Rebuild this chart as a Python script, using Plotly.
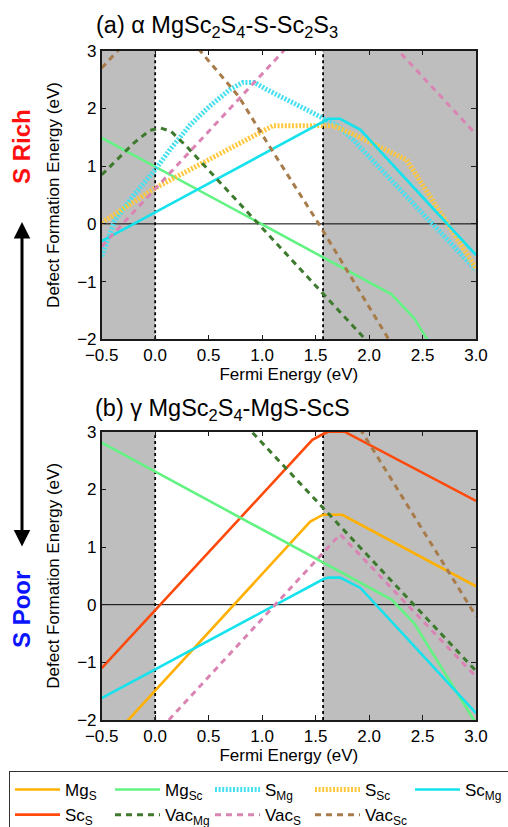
import plotly.graph_objects as go

# ---- data: defect formation energies vs Fermi level (eV) ----
band_gap = 1.57
x_range = [-0.5, 3.0]
y_range = [-2, 3]
x_ticks = [-0.5, 0.0, 0.5, 1.0, 1.5, 2.0, 2.5, 3.0]
x_tick_text = ["\u22120.5", "0.0", "0.5", "1.0", "1.5", "2.0", "2.5", "3.0"]
y_ticks = [-2, -1, 0, 1, 2, 3]

# (a) S-rich: MgSc2S4 - S - Sc2S3
rich_mgsc_x = [-0.5, 2.21, 2.42, 2.56]
rich_mgsc_y = [1.49, -1.22, -1.63, -2.05]
rich_smg_x = [-0.5, -0.38, -0.2, 0.0, 0.14, 0.33, 0.51, 0.70, 0.82, 0.93, 1.04, 1.57, 1.70, 1.85, 3.0]
rich_smg_y = [-0.56, 0.05, 0.5, 0.94, 1.29, 1.72, 2.04, 2.33, 2.45, 2.45, 2.33, 1.85, 1.71, 1.46, -0.8]
rich_ssc_x = [-0.5, 0.0, 1.1, 1.67, 1.89, 2.35, 3.0]
rich_ssc_y = [0.02, 0.62, 1.7, 1.7, 1.52, 1.11, -0.77]
rich_scmg_x = [-0.5, 1.57, 1.62, 1.73, 1.92, 3.0]
rich_scmg_y = [-0.3, 1.77, 1.82, 1.82, 1.63, -0.54]
rich_vacmg_x = [-0.5, -0.2, -0.05, 0.05, 0.15, 0.3, 2.0]
rich_vacmg_y = [0.85, 1.4, 1.62, 1.66, 1.6, 1.33, -2.07]
rich_vacs_x = [-0.5, 1.74, 3.0]
rich_vacs_y = [-0.39, 4.07, 1.55]
rich_vacsc_x = [-0.5, 0.1, 0.42, 0.78, 1.07, 1.37, 1.53, 2.2]
rich_vacsc_y = [2.7, 3.9, 3.0, 2.21, 1.34, 0.48, 0.0, -2.05]

# (b) S-poor: MgSc2S4 - MgS - ScS
poor_mgs_x = [-0.5, 1.45, 1.57, 1.75, 3.0]
poor_mgs_y = [-2.5, 1.44, 1.56, 1.56, 0.32]
poor_scs_x = [-0.5, 1.47, 1.57, 1.62, 1.77, 3.0]
poor_scs_y = [-1.1, 2.86, 2.96, 3.0, 3.0, 1.8]
poor_mgsc_x = [-0.5, 2.21, 2.42, 3.0]
poor_mgsc_y = [2.81, 0.09, -0.32, -2.06]
poor_scmg_x = [-0.5, 1.57, 1.62, 1.73, 1.92, 3.0]
poor_scmg_y = [-1.62, 0.44, 0.47, 0.47, 0.29, -1.88]
poor_vacmg_x = [0.7, 3.0]
poor_vacmg_y = [3.4, -1.15]
poor_vacs_x = [-0.5, 1.73, 3.0]
poor_vacs_y = [-3.26, 1.22, -1.25]
poor_vacsc_x = [1.7, 3.0]
poor_vacsc_y = [3.7, -0.2]

FONT = "Liberation Sans, Arial, Helvetica, sans-serif"
DOT = "2px,1.6px"
DASH = "6px,5px"

# name, legend label, colour, dash, width
styles = {
    "MgS":   ("Mg<sub>S</sub>",   "#FFB000", "solid", 2.6),
    "MgSc":  ("Mg<sub>Sc</sub>",  "#62F383", "solid", 2.6),
    "SMg":   ("S<sub>Mg</sub>",   "#45E0F0", DOT, 5),
    "SSc":   ("S<sub>Sc</sub>",   "#FFC83C", DOT, 5),
    "ScMg":  ("Sc<sub>Mg</sub>",  "#14E2EC", "solid", 2.6),
    "ScS":   ("Sc<sub>S</sub>",   "#FF4A0A", "solid", 2.6),
    "VacMg": ("Vac<sub>Mg</sub>", "#3D7A2E", DASH, 3),
    "VacS":  ("Vac<sub>S</sub>",  "#DA84B4", DASH, 3),
    "VacSc": ("Vac<sub>Sc</sub>", "#A77B4A", DASH, 3),
}
order = list(styles.keys())

panels = [
    ("x", "y", [("MgSc", rich_mgsc_x, rich_mgsc_y), ("SMg", rich_smg_x, rich_smg_y),
                ("SSc", rich_ssc_x, rich_ssc_y), ("ScMg", rich_scmg_x, rich_scmg_y),
                ("VacMg", rich_vacmg_x, rich_vacmg_y), ("VacS", rich_vacs_x, rich_vacs_y),
                ("VacSc", rich_vacsc_x, rich_vacsc_y)]),
    ("x2", "y2", [("MgS", poor_mgs_x, poor_mgs_y), ("ScS", poor_scs_x, poor_scs_y),
                  ("MgSc", poor_mgsc_x, poor_mgsc_y), ("ScMg", poor_scmg_x, poor_scmg_y),
                  ("VacMg", poor_vacmg_x, poor_vacmg_y), ("VacS", poor_vacs_x, poor_vacs_y),
                  ("VacSc", poor_vacsc_x, poor_vacsc_y)]),
]

fig = go.Figure()
shown = set()
for xa, ya, series in panels:
    for key, xs, ys in series:
        label, color, dash, width = styles[key]
        fig.add_trace(go.Scatter(
            x=xs, y=ys, mode="lines", xaxis=xa, yaxis=ya,
            name=label, legendgroup=key, legendrank=order.index(key) + 1,
            showlegend=key not in shown,
            line=dict(color=color, dash=dash, width=width),
            hoverinfo="skip",
        ))
        shown.add(key)

W, H = 508, 827
# plot-area boxes in pixels (left, right, top, bottom)
boxes = [(101.7, 476.0, 50.7, 339.3), (101.7, 476.0, 431.7, 720.0)]

axis_common = dict(
    showline=True, linecolor="#1a1a1a", linewidth=1.5, mirror="ticks",
    ticks="inside", ticklen=5, tickwidth=1.3, tickcolor="#1a1a1a",
    showgrid=False, zeroline=False, automargin=False,
    tickfont=dict(family=FONT, size=17, color="black"),
)

layout = dict(
    width=W, height=H, margin=dict(l=0, r=0, t=0, b=0, autoexpand=False),
    paper_bgcolor="white", plot_bgcolor="white",
    font=dict(family=FONT, color="black"),
    showlegend=True,
    legend=dict(
        orientation="h", x=9 / W, y=1 - 771 / H, xanchor="left", yanchor="top",
        bordercolor="#333333", borderwidth=1, bgcolor="white",
        font=dict(family=FONT, size=17, color="black"),
        itemwidth=45, entrywidth=40, traceorder="normal",
    ),
)

shapes = []
for i, (l, r, t, b) in enumerate(boxes):
    sfx = "" if i == 0 else "2"
    layout["xaxis" + sfx] = dict(
        axis_common, domain=[l / W, r / W], range=x_range, anchor="y" + sfx,
        tickvals=x_ticks, ticktext=x_tick_text,
        title=dict(text="Fermi Energy (eV)", font=dict(family=FONT, size=17), standoff=2),
    )
    layout["yaxis" + sfx] = dict(
        axis_common, domain=[1 - b / H, 1 - t / H], range=y_range, anchor="x" + sfx,
        tickvals=y_ticks,
        title=dict(text="Defect Formation Energy (eV)", font=dict(family=FONT, size=17), standoff=13),
    )
    xr, yr = "x" + sfx, "y" + sfx
    # shaded regions outside the band gap
    for x0, x1 in [(x_range[0], 0.0), (band_gap, x_range[1])]:
        shapes.append(dict(type="rect", xref=xr, yref=yr, x0=x0, x1=x1, y0=y_range[0], y1=y_range[1],
                           fillcolor="#BEBEBE", line=dict(width=0), layer="below"))
    # band edges
    for xv in [0.0, band_gap]:
        shapes.append(dict(type="line", xref=xr, yref=yr, x0=xv, x1=xv, y0=y_range[0], y1=y_range[1],
                           line=dict(color="black", width=1.8, dash="dot"), layer="below"))
    # zero of formation energy
    shapes.append(dict(type="line", xref=xr, yref=yr, x0=x_range[0], x1=x_range[1], y0=0, y1=0,
                       line=dict(color="black", width=1), layer="below"))
layout["shapes"] = shapes

annotations = [
    dict(text="(a) \u03b1 MgSc<sub>2</sub>S<sub>4</sub>-S-Sc<sub>2</sub>S<sub>3</sub>",
         x=217 / W, y=1 - 27 / H, xref="paper", yref="paper", showarrow=False,
         xanchor="center", yanchor="middle",
         font=dict(family=FONT, size=23.5, color="black")),
    dict(text="(b) \u03b3 MgSc<sub>2</sub>S<sub>4</sub>-MgS-ScS",
         x=222 / W, y=1 - 410 / H, xref="paper", yref="paper", showarrow=False,
         xanchor="center", yanchor="middle",
         font=dict(family=FONT, size=23.5, color="black")),
    dict(text="<b>S Rich</b>", x=21 / W, y=1 - 147 / H, xref="paper", yref="paper",
         showarrow=False, textangle=-90, xanchor="center", yanchor="middle",
         font=dict(family=FONT, size=24, color="#FF1010")),
    dict(text="<b>S Poor</b>", x=21 / W, y=1 - 610 / H, xref="paper", yref="paper",
         showarrow=False, textangle=-90, xanchor="center", yanchor="middle",
         font=dict(family=FONT, size=24, color="#0A14FF")),
    # double-headed arrow between the two chemical-potential limits
    dict(x=22 / W, y=1 - 222 / H, xref="paper", yref="paper", text="",
         showarrow=True, arrowside="end+start", arrowhead=2, startarrowhead=2,
         arrowsize=1.1, startarrowsize=1.1, arrowwidth=3, arrowcolor="black",
         ax=0, ay=548 - 222, axref="pixel", ayref="pixel"),
]
layout["annotations"] = annotations

fig.update_layout(layout)
fig.write_html("out.html")
